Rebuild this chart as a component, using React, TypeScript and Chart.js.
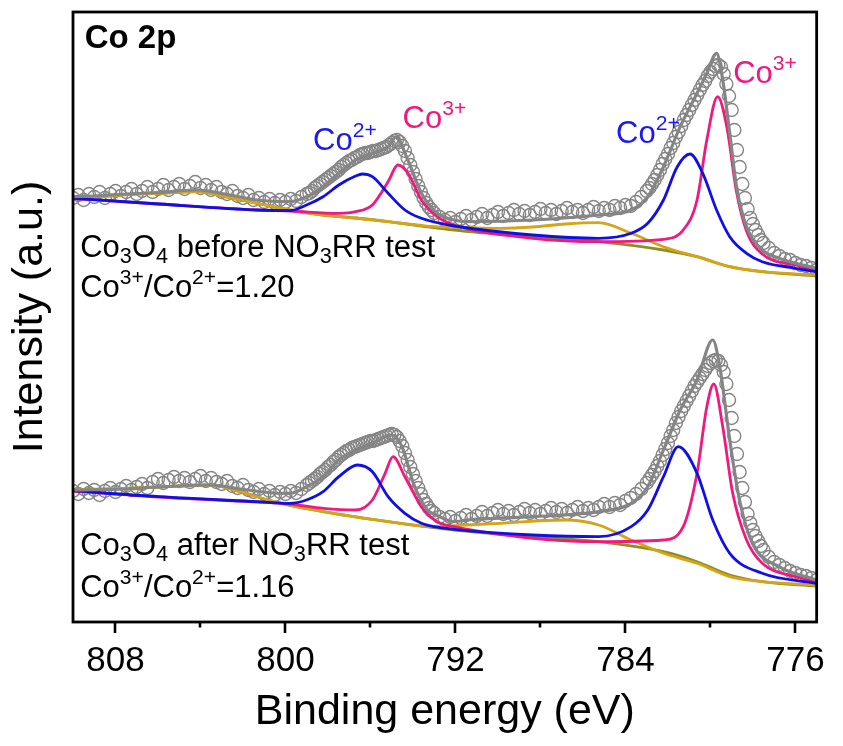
import React, { useEffect, useRef } from "react";
import { Chart, registerables } from "chart.js";

Chart.register(...registerables);

// ---------- axis ticks ----------
const xMajorTicks = [808, 800, 792, 784, 776];
const xMinorTicks = [804, 796, 788, 780];

// ---------- measured points (binding energy, eV) ----------
const pointEnergy = [
  // 810 -> 799.25
  810.0, 809.75, 809.5, 809.25, 809.0, 808.75, 808.5, 808.25, 808.0, 807.75, 807.5, 807.25, 807.0, 806.75, 806.5, 806.25,
  806.0, 805.75, 805.5, 805.25, 805.0, 804.75, 804.5, 804.25, 804.0, 803.75, 803.5, 803.25, 803.0, 802.75, 802.5, 802.25,
  802.0, 801.75, 801.5, 801.25, 801.0, 800.75, 800.5, 800.25, 800.0, 799.75, 799.5, 799.25,
  // 799 -> 793 (2p1/2 region)
  799.0, 798.875, 798.75, 798.625, 798.5, 798.375, 798.25, 798.125, 798.0, 797.875, 797.75, 797.625, 797.5, 797.375, 797.25, 797.125,
  797.0, 796.875, 796.75, 796.625, 796.5, 796.375, 796.25, 796.125, 796.0, 795.875, 795.75, 795.625, 795.5, 795.375, 795.25, 795.125,
  795.0, 794.875, 794.75, 794.625, 794.5, 794.375, 794.25, 794.125, 794.0, 793.875, 793.75, 793.625, 793.5, 793.375, 793.25, 793.125,
  793.0,
  // 792.75 -> 783.25
  792.75, 792.5, 792.25, 792.0, 791.75, 791.5, 791.25, 791.0, 790.75, 790.5, 790.25, 790.0, 789.75, 789.5, 789.25, 789.0,
  788.75, 788.5, 788.25, 788.0, 787.75, 787.5, 787.25, 787.0, 786.75, 786.5, 786.25, 786.0, 785.75, 785.5, 785.25, 785.0,
  784.75, 784.5, 784.25, 784.0, 783.75, 783.5, 783.25,
  // 783 -> 777.5 (2p3/2 region)
  783.0, 782.875, 782.75, 782.625, 782.5, 782.375, 782.25, 782.125, 782.0, 781.875, 781.75, 781.625, 781.5, 781.375, 781.25, 781.125,
  781.0, 780.875, 780.75, 780.625, 780.5, 780.375, 780.25, 780.125, 780.0, 779.875, 779.75, 779.625, 779.5, 779.375, 779.25, 779.125,
  779.0, 778.875, 778.75, 778.625, 778.5, 778.375, 778.25, 778.125, 778.0, 777.875, 777.75, 777.625, 777.5,
  // 777.25 -> 775
  777.25, 777.0, 776.75, 776.5, 776.25, 776.0, 775.75, 775.5, 775.25, 775.0,
];

// intensity of the spectrum before the test (upper trace)
const beforePoints = [
  424, 427, 422, 428, 425, 430, 424, 428, 431, 426, 430, 433, 428, 431, 435, 430,
  433, 437, 432, 435, 438, 433, 436, 440, 434, 437, 432, 435, 430, 428, 431, 426,
  424, 427, 422, 424, 420, 423, 419, 422, 420, 423, 421, 425,
  428, 429, 431, 434, 436, 438, 440, 442, 444, 446, 448, 450, 452, 455, 457, 459,
  461, 462, 464, 465, 467, 468, 469, 469, 470, 471, 471, 472, 473, 474, 475, 477,
  479, 481, 482, 480, 476, 471, 464, 457, 450, 443, 436, 430, 424, 419, 415, 412,
  409,
  405, 402, 404, 400, 403, 406, 402, 405, 408, 404, 407, 410, 406, 409, 412, 408,
  411, 407, 410, 413, 409, 412, 408, 411, 414, 410, 412, 409, 412, 415, 411, 414,
  412, 416, 414, 417, 416, 420, 425,
  431, 434, 438, 442, 447, 452, 458, 463, 468, 474, 479, 485, 490, 496, 502, 507,
  512, 517, 522, 527, 532, 537, 541, 546, 550, 553, 556, 557, 555, 548, 538, 526,
  512, 492, 472, 455, 438, 424, 413, 404, 398, 392, 387, 382, 379,
  374, 369, 366, 363, 362, 359, 357, 356, 354, 352,
];

// intensity of the spectrum after the test (lower trace)
const afterPoints = [
  131, 128, 133, 129, 132, 127, 131, 134, 130, 133, 136, 132, 135, 138, 134, 140,
  143, 139, 142, 145, 141, 144, 140, 143, 146, 141, 144, 140, 138, 141, 136, 134,
  137, 132, 130, 133, 128, 131, 127, 130, 128, 131, 129, 133,
  137, 139, 141, 143, 145, 148, 150, 152, 155, 157, 160, 162, 165, 167, 169, 171,
  172, 174, 175, 176, 177, 178, 179, 180, 181, 181, 182, 183, 184, 185, 186, 187,
  188, 187, 185, 181, 176, 169, 162, 155, 148, 141, 134, 128, 122, 118, 114, 111,
  109,
  105, 103, 105, 101, 104, 107, 103, 106, 110, 106, 109, 112, 108, 111, 107, 110,
  113, 109, 112, 108, 111, 114, 110, 113, 109, 112, 115, 111, 114, 112, 115, 118,
  115, 119, 117, 121, 124, 128, 133,
  139, 143, 147, 151, 156, 161, 167, 173, 179, 186, 192, 199, 205, 211, 216, 221,
  226, 231, 236, 240, 244, 248, 252, 256, 259, 261, 262, 261, 257, 250, 238, 222,
  204, 186, 168, 150, 134, 120, 108, 99, 92, 86, 81, 76, 72,
  65, 60, 57, 54, 51, 49, 47, 46, 44, 42,
];

// ---------- fitted curves, before ----------
const beforeEnvE = [810, 809, 807.5, 806, 804.1, 802.85, 801.33, 799.8, 799.0, 798.23, 797.49, 796.7, 795.91, 795.17, 794.8, 794.24, 793.6, 792.86, 792.06, 791.47, 788.36, 785.26, 783.73, 782.95, 782.21, 781.42, 780.63, 780.17, 779.71, 779.42, 779.09, 778.77, 778.3, 777.56, 776.77, 775.98, 775.01];
const beforeEnvI = [425.3, 426, 428, 429.5, 432, 428, 422, 420.3, 425.3, 435.3, 448.7, 462, 468.7, 475.3, 485, 462, 428.7, 408.7, 402, 400.3, 402, 407, 412, 425.3, 455.3, 495.3, 528.7, 548.7, 568.7, 542, 488.7, 435.3, 395.3, 372, 363.7, 358.7, 353.7];

const beforeCo2E = [810, 805.96, 801.33, 799.8, 799.01, 798.23, 797.49, 796.7, 796.38, 795.91, 795.17, 794.38, 793.6, 793.0, 792.06, 788.36, 785.26, 783.73, 782.95, 782.21, 781.56, 780.96, 780.36, 779.71, 779.09, 778.3, 777.56, 775.98, 775.01];
const beforeCo2I = [423.7, 418, 412, 411.3, 417, 425.3, 437, 446, 448, 445.3, 428.7, 412, 403.7, 400, 396, 387, 383.7, 388.7, 398.7, 422, 455.3, 468, 448.7, 412, 385.3, 368.7, 360.3, 353.7, 350.3];

const beforeCo3E = [810, 805.96, 801.33, 799.8, 797.49, 796.7, 795.91, 795.17, 794.71, 794.24, 793.6, 792.86, 792.06, 788.36, 785.26, 782.21, 781.28, 780.63, 780.17, 779.66, 779.23, 778.77, 778.3, 777.56, 775.98, 775.01];
const beforeCo3I = [423.5, 418, 412, 411, 408.7, 410.3, 417, 440.3, 457, 449, 422, 405.3, 397, 383.7, 380.3, 382.7, 392, 422, 482, 525.3, 495.3, 430, 391, 368, 357, 352];

const beforeSatE = [810, 809.06, 807.5, 805.96, 804.1, 802.85, 801.33, 799.8, 798.23, 796.7, 795.17, 793.6, 793.0, 791.5, 789.89, 788.36, 786.83, 785.26, 783.73, 782.21, 780.63, 779.09, 777.56, 775.01];
const beforeSatI = [425.3, 425.3, 427.5, 428.7, 430.3, 425.3, 418.7, 412, 407, 404, 400.3, 396.5, 395.3, 394.5, 393.7, 395, 398, 399.3, 388.7, 375.3, 365.3, 355.3, 350.3, 347];

const beforeBgE = [810, 809.06, 807.5, 805.96, 804.1, 802.85, 801.33, 799.8, 798.23, 796.7, 795.17, 793.6, 792.06, 788.36, 785.26, 782.21, 780.63, 779.09, 777.56, 775.01];
const beforeBgI = [425.3, 425.3, 427.5, 428.7, 430.3, 425.3, 418.7, 412, 407, 404, 400.3, 396, 392, 385.3, 380.3, 372, 365.3, 355.3, 350.3, 346];

// ---------- fitted curves, after ----------
const afterEnvE = [810, 807.49, 805.96, 803.5, 802.12, 800.54, 799.8, 799.01, 798.23, 797.49, 796.7, 795.91, 794.99, 794.52, 793.92, 793.32, 793.0, 792.06, 791.47, 788.36, 785.26, 783.73, 782.95, 782.21, 781.42, 780.63, 779.89, 779.56, 779.09, 778.63, 778.02, 776.77, 775.01];
const afterEnvI = [132, 133, 135, 137, 133, 129, 128.7, 135.3, 145.3, 162, 172, 178.7, 187, 175.3, 135.3, 112, 108, 100.3, 102, 105.3, 110.3, 118.7, 135.3, 172, 212, 242, 282, 255.3, 182, 122, 78.7, 55.3, 42];

const afterCo2E = [810, 805.96, 801.33, 799.8, 799.01, 798.23, 797.49, 796.61, 795.91, 795.17, 794.38, 793.6, 793.0, 792.06, 788.36, 785.26, 783.73, 782.95, 782.21, 781.51, 780.63, 779.89, 779.09, 777.56, 775.01];
const afterCo2I = [131.3, 125.3, 120.3, 118.7, 122, 130.3, 145.3, 157, 150.3, 125.3, 108.7, 98.7, 95.3, 92.7, 87, 85.3, 95.3, 112, 145.3, 175.3, 148.7, 102, 68.7, 48.7, 38.7];

const afterCo3E = [810, 805.96, 801.33, 799.8, 798.23, 796.7, 795.91, 795.31, 794.94, 794.38, 793.6, 792.86, 792.06, 788.36, 785.26, 782.21, 781.28, 780.63, 780.17, 779.84, 779.42, 778.95, 778.3, 777.56, 775.98, 775.01];
const afterCo3I = [131, 125, 120, 118, 113.7, 112, 122, 148.7, 165.3, 145.3, 115.3, 100.3, 95.3, 83.7, 80.3, 82, 95.3, 148.7, 215.3, 238, 195.3, 128.7, 82, 58.7, 45.3, 40.3];

const afterSatE = [810, 807.49, 805.96, 803.5, 802.12, 800.54, 798.23, 795.17, 793.0, 791.5, 789.89, 786.83, 785.26, 783.73, 782.21, 780.63, 779.09, 777.56, 775.01];
const afterSatI = [132, 133.7, 135, 137, 130.3, 120.3, 110.3, 100.3, 95.3, 97, 98.7, 102, 97, 82, 68.7, 58.7, 45.3, 40.3, 37];

const afterBgE = [810, 807.49, 805.96, 803.5, 802.12, 800.54, 798.23, 795.17, 792.06, 788.36, 785.26, 782.21, 780.63, 779.09, 777.56, 775.01];
const afterBgI = [132, 133.7, 135, 137, 130.3, 120.3, 110.3, 100.3, 92, 85.3, 80.3, 70.3, 60.3, 47, 40.3, 36];

// ---------- colours ----------
const C_POINT = "#858585";
const C_ENV = "#858585";
const C_CO2 = "#1010e6";
const C_CO3 = "#f0197d";
const C_SAT = "#d6a418";
const C_BG = "#8d8f24";

const FONT = '"Liberation Sans", Arial, Helvetica, sans-serif';

type Seg = { t: string; k?: "sub" | "sup" };
type Note = { e: number; i: number; segs: Seg[]; color: string; size: number; bold?: boolean };

const notes: Note[] = [
  { e: 809.45, i: 574, segs: [{ t: "Co 2p" }], color: "#000", size: 33, bold: true },
  { e: 809.66, i: 365, segs: [{ t: "Co" }, { t: "3", k: "sub" }, { t: "O" }, { t: "4", k: "sub" }, { t: " before NO" }, { t: "3", k: "sub" }, { t: "RR test" }], color: "#000", size: 31 },
  { e: 809.66, i: 325, segs: [{ t: "Co" }, { t: "3+", k: "sup" }, { t: "/Co" }, { t: "2+", k: "sup" }, { t: "=1.20" }], color: "#000", size: 31 },
  { e: 809.66, i: 67, segs: [{ t: "Co" }, { t: "3", k: "sub" }, { t: "O" }, { t: "4", k: "sub" }, { t: " after NO" }, { t: "3", k: "sub" }, { t: "RR test" }], color: "#000", size: 31 },
  { e: 809.66, i: 25, segs: [{ t: "Co" }, { t: "3+", k: "sup" }, { t: "/Co" }, { t: "2+", k: "sup" }, { t: "=1.16" }], color: "#000", size: 31 },
  { e: 798.7, i: 472, segs: [{ t: "Co" }, { t: "2+", k: "sup" }], color: "#1a1aee", size: 31 },
  { e: 794.49, i: 494, segs: [{ t: "Co" }, { t: "3+", k: "sup" }], color: "#f0197d", size: 31 },
  { e: 784.44, i: 479, segs: [{ t: "Co" }, { t: "2+", k: "sup" }], color: "#1a1aee", size: 31 },
  { e: 778.93, i: 539, segs: [{ t: "Co" }, { t: "3+", k: "sup" }], color: "#f0197d", size: 31 },
];

const pairs = (xs: number[], ys: number[]) => xs.map((x, k) => ({ x, y: ys[k] }));

function lineSet(label: string, xs: number[], ys: number[], color: string, width: number, order: number) {
  return {
    label,
    data: pairs(xs, ys),
    borderColor: color,
    backgroundColor: color,
    borderWidth: width,
    pointRadius: 0,
    fill: false,
    cubicInterpolationMode: "monotone" as const,
    order,
  };
}

function pointSet(label: string, xs: number[], ys: number[], order: number) {
  return {
    label,
    data: pairs(xs, ys),
    showLine: false,
    pointStyle: "circle" as const,
    pointRadius: 6.5,
    pointBorderWidth: 1.4,
    pointBorderColor: C_POINT,
    pointBackgroundColor: "rgba(255,255,255,0)",
    borderColor: C_POINT,
    backgroundColor: "rgba(255,255,255,0)",
    order,
  };
}

function drawRich(ctx: CanvasRenderingContext2D, segs: Seg[], x: number, y: number, size: number, color: string, bold?: boolean) {
  let cx = x;
  ctx.fillStyle = color;
  ctx.textBaseline = "alphabetic";
  ctx.textAlign = "left";
  for (const s of segs) {
    const fs = s.k === "sup" ? size * 0.68 : s.k === "sub" ? size * 0.7 : size;
    ctx.font = `${bold ? "bold " : ""}${fs}px ${FONT}`;
    const dy = s.k === "sub" ? size * 0.2 : s.k === "sup" ? -size * 0.43 : 0;
    ctx.fillText(s.t, cx, y + dy);
    cx += ctx.measureText(s.t).width;
  }
}

const framePlugin = {
  id: "frameAndNotes",
  afterDatasetsDraw(chart: any) {
    const { ctx, chartArea, scales } = chart;
    const xs = scales.x;
    const ys = scales.y;
    ctx.save();
    for (const n of notes) {
      drawRich(ctx, n.segs, xs.getPixelForValue(n.e), ys.getPixelForValue(n.i), n.size, n.color, n.bold);
    }
    ctx.strokeStyle = "#000";
    ctx.lineWidth = 2.8;
    ctx.strokeRect(chartArea.left, chartArea.top, chartArea.right - chartArea.left, chartArea.bottom - chartArea.top);
    ctx.lineWidth = 2.6;
    ctx.beginPath();
    for (const t of xMajorTicks) {
      const px = Math.round(xs.getPixelForValue(t));
      ctx.moveTo(px, chartArea.bottom);
      ctx.lineTo(px, chartArea.bottom + 11);
    }
    for (const t of xMinorTicks) {
      const px = Math.round(xs.getPixelForValue(t));
      ctx.moveTo(px, chartArea.bottom);
      ctx.lineTo(px, chartArea.bottom + 5.5);
    }
    ctx.stroke();
    ctx.restore();
  },
};

export default function App() {
  const ref = useRef<HTMLCanvasElement | null>(null);

  useEffect(() => {
    if (!ref.current) return;
    const chart = new Chart(ref.current, {
      type: "line",
      data: {
        datasets: [
          lineSet("Envelope (before)", beforeEnvE, beforeEnvI, C_ENV, 3.2, 1),
          lineSet("Co2+ (before)", beforeCo2E, beforeCo2I, C_CO2, 2.8, 2),
          lineSet("Co3+ (before)", beforeCo3E, beforeCo3I, C_CO3, 2.8, 3),
          lineSet("Satellite (before)", beforeSatE, beforeSatI, C_SAT, 2.8, 4),
          lineSet("Background (before)", beforeBgE, beforeBgI, C_BG, 2.8, 5),
          pointSet("Raw (before)", pointEnergy, beforePoints, 6),
          lineSet("Envelope (after)", afterEnvE, afterEnvI, C_ENV, 3.2, 1),
          lineSet("Co2+ (after)", afterCo2E, afterCo2I, C_CO2, 2.8, 2),
          lineSet("Co3+ (after)", afterCo3E, afterCo3I, C_CO3, 2.8, 3),
          lineSet("Satellite (after)", afterSatE, afterSatI, C_SAT, 2.8, 4),
          lineSet("Background (after)", afterBgE, afterBgI, C_BG, 2.8, 5),
          pointSet("Raw (after)", pointEnergy, afterPoints, 6),
        ],
      },
      options: {
        responsive: false,
        animation: false,
        events: [],
        layout: { padding: { left: 0, right: 14, top: 12, bottom: 0 } },
        plugins: { legend: { display: false }, tooltip: { enabled: false } },
        scales: {
          x: {
            type: "linear",
            reverse: true,
            min: 775,
            max: 810,
            afterBuildTicks: (scale: any) => {
              scale.ticks = xMajorTicks.map((v) => ({ value: v }));
            },
            afterFit: (scale: any) => {
              scale.height = 124;
            },
            grid: { display: false, drawTicks: false },
            border: { display: false },
            ticks: {
              color: "#000",
              font: { family: FONT, size: 35 },
              padding: 18,
              maxRotation: 0,
              autoSkip: false,
            },
            title: {
              display: true,
              text: "Binding energy (eV)",
              color: "#000",
              font: { family: FONT, size: 43 },
              padding: { top: 0, bottom: 8 },
            },
          },
          y: {
            type: "linear",
            min: 0,
            max: 610,
            afterFit: (scale: any) => {
              scale.width = 73;
            },
            grid: { display: false, drawTicks: false },
            border: { display: false },
            ticks: { display: false },
            title: {
              display: true,
              text: "Intensity (a.u.)",
              color: "#000",
              font: { family: FONT, size: 43 },
              padding: { top: 4, bottom: 0 },
            },
          },
        },
      },
      plugins: [framePlugin],
    });
    return () => chart.destroy();
  }, []);

  return (
    <div style={{ position: "absolute", left: 0, top: 0, width: 843, height: 746, background: "#fff" }}>
      <canvas ref={ref} width={843} height={746} style={{ display: "block" }} />
    </div>
  );
}
